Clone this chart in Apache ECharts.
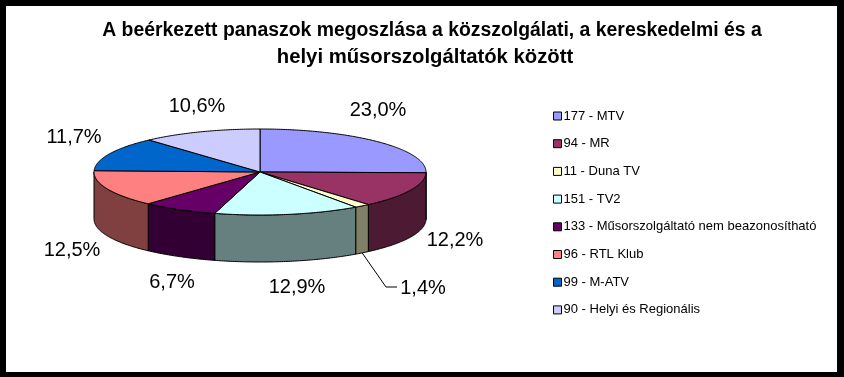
<!DOCTYPE html>
<html>
<head>
<meta charset="utf-8">
<script src="https://cdn.jsdelivr.net/npm/echarts@6/dist/echarts.min.js"></script>
<style>
    html, body { margin: 0; padding: 0; background: #000; }
    #main { width: 844px; height: 377px; }
</style>
</head>
<body>
<div id="main"></div>
<script>
    const titleLines = ["A beérkezett panaszok megoszlása a közszolgálati, a kereskedelmi és a", "helyi műsorszolgáltatók között"];
    const categories = ["177 - MTV", "94 - MR", "11 - Duna TV", "151 - TV2", "133 - Műsorszolgáltató nem beazonosítható", "96 - RTL Klub", "99 - M-ATV", "90 - Helyi és Regionális"];
    const values = [23.0, 12.2, 1.4, 12.9, 6.7, 12.5, 11.7, 10.6];
    const colors = ["#9999ff", "#993366", "#ffffcc", "#ccffff", "#660066", "#ff8080", "#0066cc", "#ccccff"];
    // hol legyen a felirat (kozeppont, px)
    const labelPos = [[378, 110], [455, 240], [423, 288], [297, 287], [172, 282], [72, 250], [74, 137], [197, 106]];

    const total = values.reduce((a, b) => a + b, 0);
    const depth = 47 / 43; // az oldalfal magassaga a kis tengely aranyaban

    // szog a csucstol orajarasi iranyban, ket fok kozott pontok az ellipszisen
    function rim(from, to) {
        const pts = [];
        const n = Math.max(2, Math.ceil((to - from) * 90));
        for (let k = 0; k <= n; k++) {
            const a = from + (to - from) * k / n;
            pts.push([Math.sin(a), Math.cos(a)]);
        }
        return pts;
    }

    function darken(hex) {
        const n = parseInt(hex.slice(1), 16);
        const c = [n >> 16, (n >> 8) & 255, n & 255].map(v => Math.round(v / 2));
        return `rgb(${c.join(",")})`;
    }

    function sliceRenderer(i) {
        const before = values.slice(0, i).reduce((a, b) => a + b, 0);
        const start = before / total * Math.PI * 2;
        const end = (before + values[i]) / total * Math.PI * 2;
        return function (params, api) {
            const children = [];
            const line = { stroke: "#000", lineWidth: 1 };
            // oldalfal csak az elulso felen latszik
            const sideFrom = Math.max(start, Math.PI / 2);
            const sideTo = Math.min(end, Math.PI * 1.5);
            if (sideTo > sideFrom) {
                const arc = rim(sideFrom, sideTo);
                const low = arc.slice().reverse().map(p => [p[0], p[1] - depth]);
                children.push({
                    type: "polygon",
                    shape: { points: arc.concat(low).map(p => api.coord(p)) },
                    style: { fill: darken(colors[i]), ...line }
                });
            }
            const top = [[0, 0]].concat(rim(start, end));
            children.push({
                type: "polygon",
                shape: { points: top.map(p => api.coord(p)) },
                style: { fill: colors[i], ...line }
            });
            // Duna TV vezetovonal
            if (i === 2) {
                const mid = (start + end) / 2;
                const from = api.coord([Math.sin(mid), Math.cos(mid) - depth]);
                children.push({
                    type: "polyline",
                    shape: { points: [from, [386, 287], [397, 287]] },
                    style: { fill: null, ...line }
                });
            }
            children.push({
                type: "text",
                x: labelPos[i][0],
                y: labelPos[i][1],
                style: {
                    text: api.value(0).toFixed(1).replace(".", ",") + "%",
                    fill: "#000",
                    font: "20px 'Liberation Sans', Arial",
                    align: "center",
                    verticalAlign: "middle"
                }
            });
            return { type: "group", children: children };
        };
    }

    const myChart = echarts.init(document.querySelector("#main"), null, { renderer: "canvas" });
    myChart.setOption({
        animation: false,
        backgroundColor: "#000",
        color: colors,
        graphic: [{
            type: "rect",
            z: -10,
            shape: { x: 6, y: 6, width: 831, height: 366 },
            style: { fill: "#fff" }
        }],
        title: titleLines.map((t, k) => ({
            text: t,
            left: k === 0 ? 427 : 420,
            top: 16 + k * 26.5,
            textAlign: "center",
            textStyle: { fontFamily: "'Liberation Sans', Arial", fontSize: k === 0 ? 19.4 : 20.3, fontWeight: "bold", color: "#000" }
        })),
        legend: {
            orient: "vertical",
            left: 553,
            top: 109,
            padding: 0,
            itemWidth: 8,
            itemHeight: 8,
            itemGap: 13.7,
            selectedMode: false,
            icon: "rect",
            itemStyle: { borderColor: "#000", borderWidth: 1 },
            textStyle: { fontFamily: "'Liberation Sans', Arial", fontSize: 13, color: "#000", padding: [0, 0, 0, -3], height: 14, lineHeight: 14 },
            data: categories
        },
        grid: { left: 94, width: 332, top: 129, height: 86 },
        xAxis: { type: "value", min: -1, max: 1, show: false },
        yAxis: { type: "value", min: -1, max: 1, show: false },
        series: categories.map((name, i) => ({
            name: name,
            type: "custom",
            coordinateSystem: "cartesian2d",
            clip: false,
            silent: true,
            encode: { x: 1, y: 2 },
            data: [[values[i], 0, 0]],
            renderItem: sliceRenderer(i)
        }))
    });
</script>
</body>
</html>
